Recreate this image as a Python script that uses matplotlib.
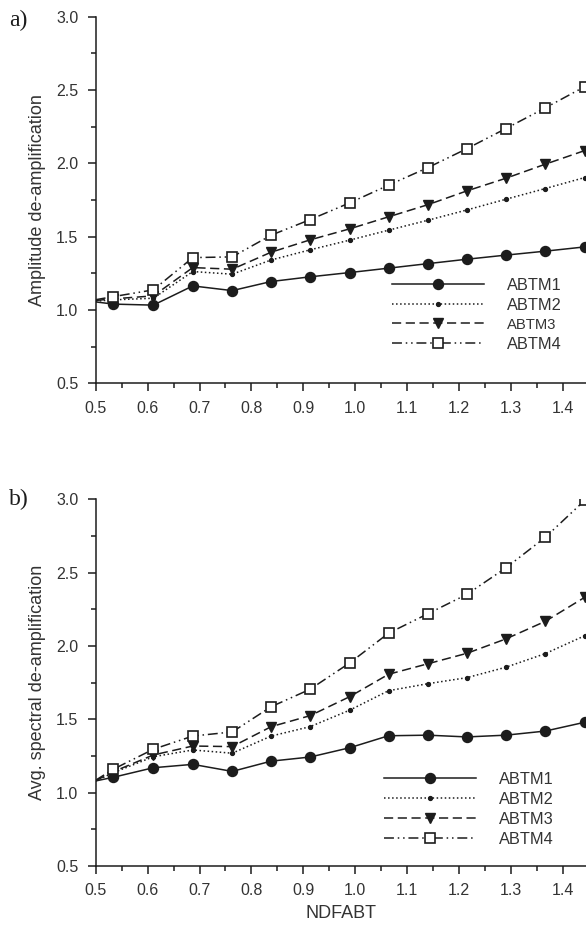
import numpy as np
import matplotlib
matplotlib.use('Agg')
import matplotlib.pyplot as plt
from matplotlib.lines import Line2D
from matplotlib.ticker import MultipleLocator

plt.rcParams['font.family'] = ['Liberation Sans', 'DejaVu Sans']

# NDFABT values at which the models were evaluated
ndfabt = [0.5, 0.534, 0.611, 0.687, 0.763, 0.838, 0.913, 0.989, 1.064,
          1.140, 1.215, 1.290, 1.366, 1.442]

# a) amplitude de-amplification
amp_abtm1 = [1.055, 1.040, 1.033, 1.164, 1.132, 1.194, 1.226, 1.255, 1.285,
             1.316, 1.346, 1.374, 1.401, 1.430]
amp_abtm2 = [1.060, 1.069, 1.080, 1.262, 1.244, 1.341, 1.410, 1.476, 1.544,
             1.612, 1.682, 1.755, 1.828, 1.903]
amp_abtm3 = [1.065, 1.076, 1.096, 1.289, 1.278, 1.394, 1.478, 1.553, 1.635,
             1.718, 1.812, 1.898, 1.994, 2.087]
amp_abtm4 = [1.070, 1.091, 1.137, 1.357, 1.362, 1.510, 1.616, 1.730, 1.851,
             1.971, 2.100, 2.237, 2.378, 2.523]

# b) average spectral de-amplification
spec_abtm1 = [1.080, 1.105, 1.170, 1.193, 1.145, 1.215, 1.243, 1.306, 1.388,
              1.392, 1.380, 1.392, 1.420, 1.480]
spec_abtm2 = [1.080, 1.136, 1.245, 1.291, 1.269, 1.386, 1.450, 1.562, 1.695,
              1.743, 1.784, 1.855, 1.948, 2.070]
spec_abtm3 = [1.082, 1.143, 1.257, 1.318, 1.314, 1.450, 1.525, 1.654, 1.807,
              1.879, 1.950, 2.048, 2.168, 2.332]
spec_abtm4 = [1.085, 1.160, 1.296, 1.386, 1.414, 1.586, 1.705, 1.884, 2.087,
              2.220, 2.352, 2.532, 2.741, 2.993]

names = ['ABTM1', 'ABTM2', 'ABTM3', 'ABTM4']

ink = '#1c1c1c'
txt = '#333333'
styles = [
    dict(ls='-', marker='o', ms=7.2, mfc=ink, mec=ink),
    dict(ls=':', marker='o', ms=2.8, mfc=ink, mec=ink),
    dict(ls=(0, (6, 3)), marker='v', ms=7.2, mfc=ink, mec=ink),
    dict(ls=(0, (6.5, 2.5, 1, 2.5, 1, 2.5)), marker='s', ms=6.5, mfc='white',
         mec=ink, mew=1.2),
]

fig = plt.figure(figsize=(5.86, 9.31), dpi=100)
left = 0.1633
width = 1.0 - left
ax1 = fig.add_axes([left, 0.5883, width, 0.3938])
ax2 = fig.add_axes([left, 0.0698, width, 0.3939])


def draw(ax, series, ylabel, leg_xy, small_third=False):
    handles = []
    for y, st, name in zip(series, styles, names):
        ax.plot(ndfabt, y, color=ink, lw=1.1, markevery=slice(1, None), **st)
        handles.append(Line2D([], [], color=ink, lw=1.1, **st))
    ax.set_xlim(0.5, 1.4444)
    ax.set_ylim(0.5, 3.0)
    ax.xaxis.set_major_locator(MultipleLocator(0.1))
    ax.xaxis.set_minor_locator(MultipleLocator(0.05))
    ax.yaxis.set_major_locator(MultipleLocator(0.5))
    ax.yaxis.set_minor_locator(MultipleLocator(0.25))
    ax.spines['top'].set_visible(False)
    ax.spines['right'].set_visible(False)
    for s in ('left', 'bottom'):
        ax.spines[s].set_linewidth(1.1)
        ax.spines[s].set_color(ink)
    ax.tick_params(which='major', length=6, width=1.1, color=ink,
                   labelsize=11.5, labelcolor=txt, pad=6.5)
    ax.tick_params(which='minor', length=3.5, width=1.1, color=ink)
    ax.set_ylabel(ylabel, fontsize=13, color=txt)
    ax.yaxis.set_label_coords(-0.102, 0.5)
    leg = ax.legend(handles, names, loc='upper left', bbox_to_anchor=leg_xy,
                    frameon=False, borderpad=0, borderaxespad=0,
                    handlelength=5.6, handletextpad=1.4, labelspacing=0.3,
                    fontsize=11.8, labelcolor=txt)
    if small_third:
        leg.get_texts()[2].set_fontsize(10.6)


draw(ax1, [amp_abtm1, amp_abtm2, amp_abtm3, amp_abtm4],
     'Amplitude de-amplification', (0.604, 0.288), small_third=True)
draw(ax2, [spec_abtm1, spec_abtm2, spec_abtm3, spec_abtm4],
     'Avg. spectral de-amplification', (0.588, 0.257))
ax2.set_xlabel('NDFABT', fontsize=13, color=txt, labelpad=5)

fig.text(0.015, 0.9785, 'a)', family=['Liberation Serif', 'DejaVu Serif'],
         fontsize=17, color=ink, va='center')
fig.text(0.015, 0.4637, 'b)', family=['Liberation Serif', 'DejaVu Serif'],
         fontsize=17, color=ink, va='center')

fig.savefig('out.png', dpi=100, facecolor='white')
